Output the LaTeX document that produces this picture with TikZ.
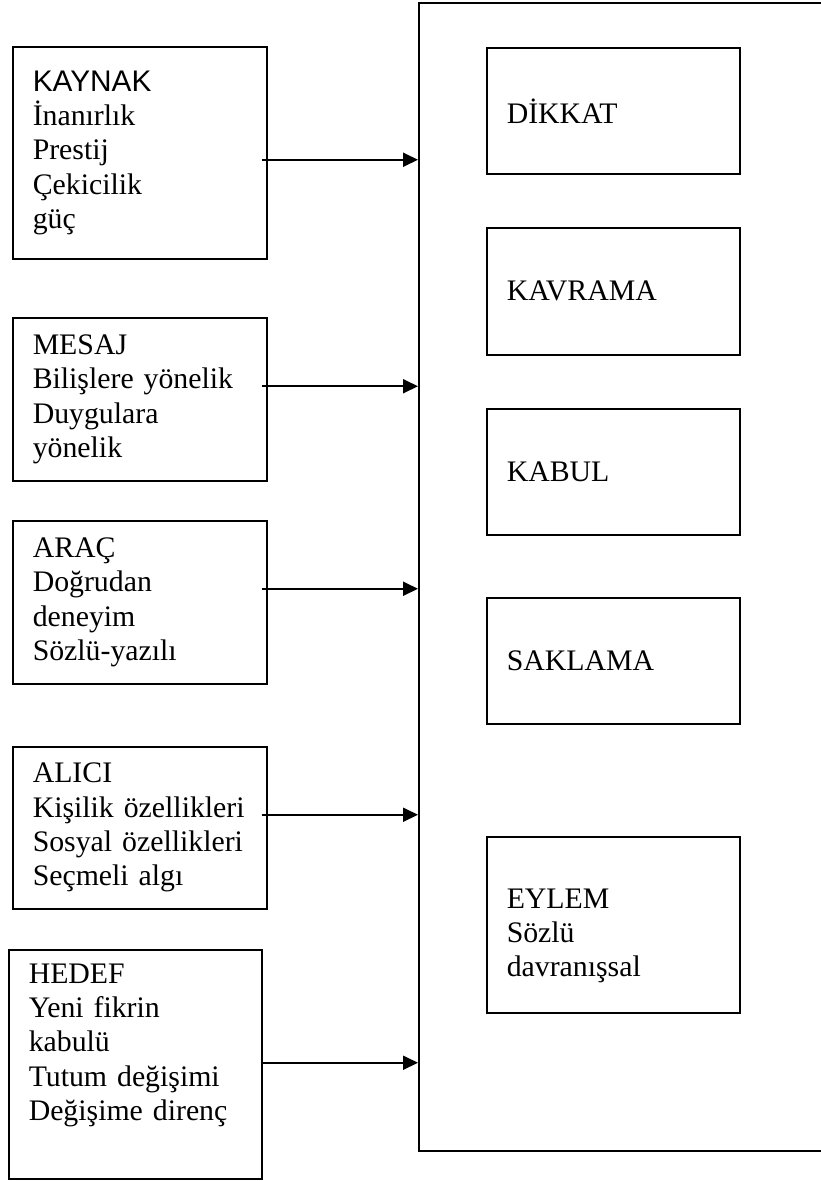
\documentclass[tikz,border=0pt]{standalone}
\usepackage{fontspec}
\setmainfont{Liberation Serif}
\newfontfamily\arialfont{Liberation Sans}
\usetikzlibrary{arrows.meta}

\begin{document}
\begin{tikzpicture}[x=1pt,y=-1pt,
  box/.style={draw,line width=1.5pt,anchor=north west,align=left,inner xsep=20pt,inner ysep=0pt,
    font=\fontsize{29.8}{34.3}\selectfont},
  leftbox/.style={box,text width=214pt,minimum width=254pt},
  rightbox/.style={box,text width=213pt,minimum width=253pt},
  arr/.style={line width=1.9pt,-{Triangle[length=15pt,width=14pt]}}]
\useasboundingbox (0,0) rectangle (820,1181);

% the large frame, its right side lies past the page
\node[draw,line width=2pt,anchor=north west,minimum width=520pt,minimum height=1148pt,inner sep=0pt] (frame) at (418,2) {};

\node[leftbox,minimum height=212pt] (kaynak) at (12,46) {{\arialfont KAYNAK}\\İnanırlık\\Prestij\\Çekicilik\\güç};
\node[leftbox,minimum height=163pt] (mesaj) at (12,317) {MESAJ\\Bilişlere yönelik\\Duygulara\\yönelik};
\node[leftbox,minimum height=163pt] (arac) at (12,520) {ARAÇ\\Doğrudan\\deneyim\\Sözlü-yazılı};
\node[leftbox,minimum height=162pt] (alici) at (12,746) {ALICI\\Kişilik özellikleri\\Sosyal özellikleri\\Seçmeli algı};
\node[box,text width=213pt,minimum width=253pt,minimum height=229pt] (hedef) at (8,949) {HEDEF\\Yeni fikrin\\kabulü\\Tutum değişimi\\Değişime direnç\\\strut};

\node[rightbox,minimum height=126pt] (dikkat) at (486,47) {DİKKAT};
\node[rightbox,minimum height=127pt] (kavrama) at (486,227) {KAVRAMA};
\node[rightbox,minimum height=126pt] (kabul) at (486,408) {KABUL};
\node[rightbox,minimum height=126pt] (saklama) at (486,597) {SAKLAMA};
\node[rightbox,minimum height=176pt] (eylem) at (486,836) {\rule{0pt}{42pt}EYLEM\\Sözlü\\davranışsal};

% arrows into the frame
\foreach \n/\dx/\dy in {kaynak/-6/-7, mesaj/-6/13, arac/-6/13.5, alici/-6/13, hedef/0/1.5}{
    \coordinate (s\n) at ([xshift=\dx pt,yshift=\dy pt]\n.east);
    \draw[arr] (s\n) -- (s\n -| frame.west);
}
\end{tikzpicture}
\end{document}
